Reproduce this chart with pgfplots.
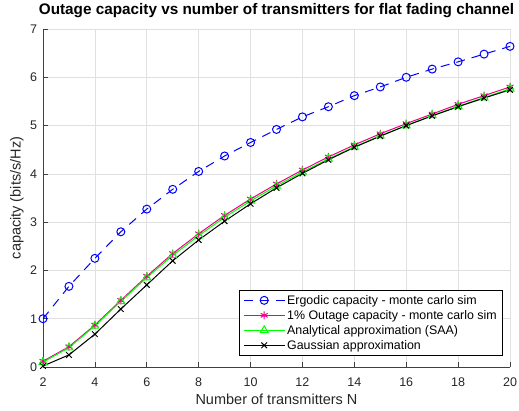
\documentclass[border=0pt]{standalone}
\usepackage{pgfplots}
\pgfplotsset{compat=1.18}
\usepackage{fontspec}
\setmainfont{Liberation Sans}
\begin{document}
\begin{tikzpicture}
\begin{axis}[
  scale only axis, width=467pt, height=338pt,
  xmin=2, xmax=20, ymin=0, ymax=7,
  xtick={2,4,...,20}, ytick={0,1,...,7},
  axis lines=left, axis line style={-, draw=black!75, line width=0.6pt},
  tick style={black!75, line width=0.6pt}, tick align=inside, major tick length=5pt,
  grid=major, major grid style={black!12, line width=0.6pt},
  ticklabel style={font=\fontsize{12.5}{15}\selectfont, text=black!85},
  xticklabel style={anchor=base, yshift=-20pt},
  yticklabel style={xshift=-2.5pt},
  /pgf/number format/assume math mode=true,
  xlabel={Number of transmitters N}, ylabel={capacity (bits/s/Hz)},
  label style={font=\fontsize{14.5}{16}\selectfont, text=black!85},
  xlabel style={at={(axis description cs:0.5,-0.112)}, anchor=base},
  ylabel style={at={(axis description cs:-0.0557,0.5)}, anchor=center},
  title={\textbf{Outage capacity vs number of transmitters for flat fading channel}},
  title style={font=\fontsize{15.3}{17}\selectfont, at={(axis description cs:0.5,1.0237)}, anchor=base},
  legend style={at={(0.985,0.033)}, anchor=south east, font=\fontsize{12.4}{14}\selectfont, draw=black, line width=0.6pt, cells={anchor=west}, row sep=0.5pt, inner xsep=4pt, inner ysep=3pt},
  legend cell align=left,
  every axis plot/.append style={line width=1pt},
  legend image code/.code={\draw[mark repeat=2,mark phase=2] plot coordinates {(0cm,0cm)(0.72cm,0cm)(1.44cm,0cm)};},
]
\addplot[blue, dash pattern=on 9pt off 7pt, mark=o, mark size=4pt, mark options={solid}] coordinates {
(2,1.00)(3,1.67)(4,2.25)(5,2.80)(6,3.27)(7,3.68)(8,4.05)(9,4.37)(10,4.65)(11,4.92)(12,5.18)(13,5.39)(14,5.62)(15,5.80)(16,6.00)(17,6.17)(18,6.32)(19,6.48)(20,6.64)};
\addlegendentry{Ergodic capacity - monte carlo sim}
\addplot[magenta, mark=asterisk, mark size=4pt] coordinates {
(2,0.12)(3,0.42)(4,0.87)(5,1.38)(6,1.88)(7,2.35)(8,2.76)(9,3.14)(10,3.48)(11,3.79)(12,4.08)(13,4.35)(14,4.60)(15,4.83)(16,5.04)(17,5.24)(18,5.44)(19,5.62)(20,5.80)};
\addlegendentry{1\% Outage capacity - monte carlo sim}
\addplot[green, mark=triangle, mark size=4.5pt] coordinates {
(2,0.10)(3,0.40)(4,0.85)(5,1.36)(6,1.85)(7,2.31)(8,2.72)(9,3.10)(10,3.44)(11,3.75)(12,4.04)(13,4.31)(14,4.56)(15,4.79)(16,5.00)(17,5.21)(18,5.40)(19,5.58)(20,5.76)};
\addlegendentry{Analytical approximation (SAA)}
\addplot[black, mark=x, mark size=4pt] coordinates {
(2,0.02)(3,0.25)(4,0.68)(5,1.20)(6,1.70)(7,2.20)(8,2.63)(9,3.02)(10,3.38)(11,3.71)(12,4.01)(13,4.29)(14,4.55)(15,4.78)(16,5.00)(17,5.20)(18,5.39)(19,5.57)(20,5.74)};
\addlegendentry{Gaussian approximation}
\end{axis}
\pgfresetboundingbox
\path ([shift={(-43pt,-44pt)}]current axis.south west) rectangle ([shift={(9pt,29pt)}]current axis.north east);
\end{tikzpicture}
\end{document}
